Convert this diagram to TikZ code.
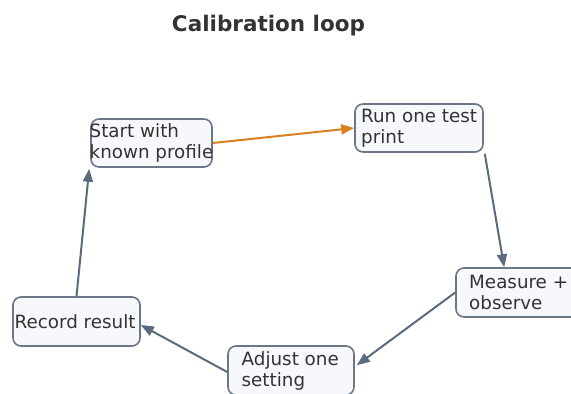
\documentclass[tikz,border=0pt]{standalone}
\usepackage{fontspec}
\setmainfont{DejaVu Sans}
\usetikzlibrary{arrows.meta,calc}
\definecolor{boxline}{HTML}{6B7686}
\definecolor{boxfill}{HTML}{F6F8FB}
\definecolor{slate}{HTML}{5B6B7D}
\definecolor{orng}{HTML}{D9801F}
\definecolor{txtc}{HTML}{333333}
\tikzset{
  stepbox/.style={draw=boxline, fill=boxfill, line width=1.6pt, rounded corners=8pt, inner sep=0pt},
  lbl/.style={anchor=west, align=left, inner sep=0pt, text=txtc, font=\fontsize{18.3}{21}\selectfont},
  conn/.style={draw=slate, line width=2pt, -{Triangle[length=13pt,width=10pt]}},
  hot/.style={conn, draw=orng, fill=orng},
}
\begin{document}
\begin{tikzpicture}[x=1pt,y=-1pt]
\useasboundingbox (0,0) rectangle (571,394);
\node[font=\bfseries\fontsize{21.5}{24}\selectfont, text=txtc, anchor=base] (title) at (268.5,31) {Calibration loop};
% boxes
\node[stepbox, minimum width=121pt, minimum height=48pt] (start) at (151.5,143) {};
\node[stepbox, minimum width=128pt, minimum height=48pt] (run) at (419,128) {};
\node[stepbox, minimum width=125pt, minimum height=49pt] (meas) at (518.5,292.5) {};
\node[stepbox, minimum width=126pt, minimum height=49pt] (adj) at (291,370.5) {};
\node[stepbox, minimum width=127pt, minimum height=49pt] (rec) at (76.5,321.5) {};
% labels
\node[lbl] (tstart) at (89.5,143) {Start with\\known profile};
\node[lbl] (trun) at (361,128) {Run one test\\print};
\node[lbl] (tmeas) at (469,292.5) {Measure +\\observe};
\node[lbl] (tadj) at (241.5,370.5) {Adjust one\\setting};
\node[lbl] (trec) at (14.5,322) {Record result};
% connectors
\draw[hot] (start.east) -- (run.west);
\draw[conn] ($(run.south east)+(1,1)$) -- ($(meas.north west)+(49,0)$);
\draw[conn] (meas.west) -- ($(adj.north east)+(2,20)$);
\draw[conn] ($(adj.west)+(0,1.5)$) -- ($(rec.east)+(0,3.5)$);
\draw[conn] (rec.north) -- ($(start.south west)+(-1,1)$);
\end{tikzpicture}
\end{document}
